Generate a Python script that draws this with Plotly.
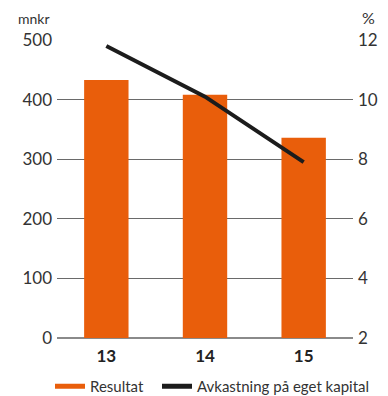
import plotly.graph_objects as go

# Result (mnkr) and return on equity (%) per year
years = ["13", "14", "15"]
resultat = [433, 408, 336]
avkastning = [11.8, 10.1, 7.9]

ORANGE = "#E95E0B"
BLACK = "#1C1C1C"
FONT = "Lato, 'Open Sans', sans-serif"

fig = go.Figure()

fig.add_trace(go.Bar(
    x=years, y=resultat, name="Resultat",
    marker=dict(color=ORANGE, line=dict(width=0)),
    showlegend=False, yaxis="y",
))
fig.add_trace(go.Scatter(
    x=years, y=avkastning, name="Avkastning på eget kapital",
    mode="lines", line=dict(color=BLACK, width=4),
    showlegend=False, yaxis="y2",
))

# legend entries drawn as short thick strokes, one legend each
fig.add_trace(go.Scatter(
    x=[None], y=[None], name="Resultat", mode="lines",
    line=dict(color=ORANGE, width=5), yaxis="y", legend="legend",
))
fig.add_trace(go.Scatter(
    x=[None], y=[None], name="Avkastning på eget kapital", mode="lines",
    line=dict(color=BLACK, width=5), yaxis="y2", legend="legend2",
))

legend_common = dict(
    orientation="h", xanchor="left",
    yref="container", y=0.024, yanchor="middle",
    font=dict(family=FONT, size=15, color="#333333"),
    itemwidth=30, bgcolor="rgba(0,0,0,0)", borderwidth=0,
)

fig.update_layout(
    width=388, height=396,
    margin=dict(l=57, r=35, t=40, b=58, autoexpand=False),
    paper_bgcolor="white", plot_bgcolor="white",
    font=dict(family=FONT, color="#333333", size=17),
    bargap=0.55,
    xaxis=dict(
        type="category", range=[-0.5, 2.5],
        showgrid=False, showline=False, zeroline=False,
        ticks="", ticklabelstandoff=6,
        tickfont=dict(family=FONT, size=17, color="#222222", weight="bold"),
    ),
    yaxis=dict(
        range=[0, 500], dtick=100, tick0=0,
        showgrid=True, gridcolor="#6a6a6a", gridwidth=1,
        zeroline=True, zerolinecolor="#8a8a8a", zerolinewidth=2,
        showline=False, ticks="", ticklabelstandoff=4,
        tickfont=dict(size=17, color="#333333"),
    ),
    yaxis2=dict(
        range=[2, 12], dtick=2, tick0=2,
        overlaying="y", side="right",
        showgrid=False, zeroline=False, showline=False, ticks="",
        ticklabelstandoff=4,
        tickfont=dict(size=17, color="#333333"),
    ),
    legend=dict(legend_common, xref="container", x=50 / 388),
    legend2=dict(legend_common, xref="container", x=157 / 388),
    annotations=[
        dict(text="mnkr", x=-0.017, xref="paper", y=1.0, yref="paper",
             showarrow=False, font=dict(size=14, color="#333333"),
             xanchor="right", yanchor="bottom", yshift=11),
        dict(text="%", x=1.0, xref="paper", y=1.0, yref="paper",
             showarrow=False, font=dict(size=16, color="#333333"),
             xanchor="left", yanchor="bottom", xshift=7, yshift=11),
    ],
)

fig.write_html("out.html")
